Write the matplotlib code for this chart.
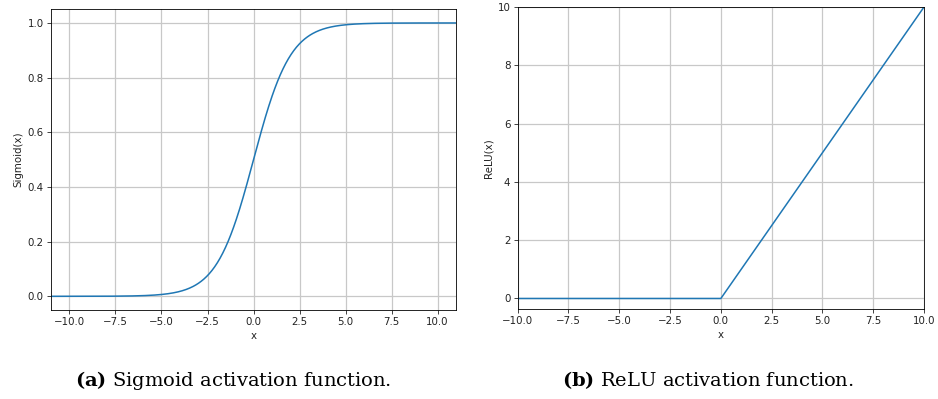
import numpy as np
import matplotlib
matplotlib.use("Agg")
import matplotlib.pyplot as plt

# data
x_ticks = [-10.0, -7.5, -5.0, -2.5, 0.0, 2.5, 5.0, 7.5, 10.0]
sig_x = np.linspace(-11, 11, 600)
sig_y = 1.0 / (1.0 + np.exp(-sig_x))
sig_yticks = [0.0, 0.2, 0.4, 0.6, 0.8, 1.0]

relu_x = [-10.0, 0.0, 10.0]
relu_y = [0.0, 0.0, 10.0]
relu_yticks = [0, 2, 4, 6, 8, 10]

captions = ["(a)", "(b)"]
caption_text = ["Sigmoid activation function.", "ReLU activation function."]

plt.rcParams.update({
    "font.size": 7.4,
    "text.color": "#222222",
    "axes.labelcolor": "#222222",
    "xtick.color": "#222222",
    "ytick.color": "#222222",
    "lines.linewidth": 1.1,
    "axes.linewidth": 0.6,
    "grid.linewidth": 0.9,
    "grid.color": "#c8c8c8",
    "xtick.major.width": 0.6,
    "ytick.major.width": 0.6,
    "xtick.major.size": 2.6,
    "ytick.major.size": 2.6,
    "xtick.major.pad": 2.6,
    "ytick.major.pad": 2.6,
    "axes.labelpad": 2.9,
    "mathtext.fontset": "custom",
    "mathtext.bf": "DejaVu Serif:bold",
    "mathtext.rm": "DejaVu Serif",
})

fig = plt.figure(figsize=(9.38, 3.99), dpi=100)

ax1 = fig.add_axes([0.0544, 0.2231, 0.4318, 0.7536])
ax1.plot(sig_x, sig_y, color="#1f77b4")
ax1.set_xlim(-11, 11)
ax1.set_ylim(-0.05, 1.05)
ax1.set_xticks(x_ticks)
ax1.set_yticks(sig_yticks)
ax1.set_xlabel("x")
ax1.set_ylabel("Sigmoid(x)")
ax1.grid(True)

ax2 = fig.add_axes([0.5519, 0.2256, 0.4332, 0.7569])
ax2.plot(relu_x, relu_y, color="#1f77b4")
ax2.set_xlim(-10, 10)
ax2.set_ylim(-0.36, 10)
ax2.set_xticks(x_ticks)
ax2.set_yticks(relu_yticks)
ax2.set_xlabel("x")
ax2.set_ylabel("ReLU(x)")
ax2.grid(True)

for xc, lab, txt in zip([0.2484, 0.7548], captions, caption_text):
    fig.text(xc, 0.032, r"$\mathbf{" + lab + "}$ " + txt, ha="center", va="baseline",
             family="DejaVu Serif", fontsize=14, color="black")

fig.savefig("out.png", dpi=100)
